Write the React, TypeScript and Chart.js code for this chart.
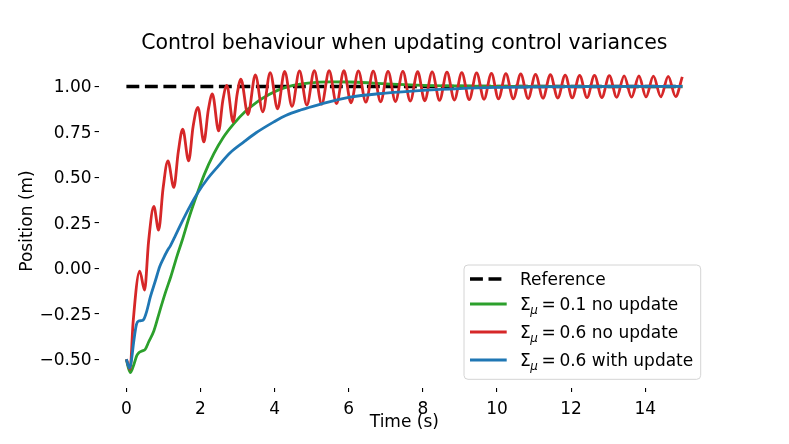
import React, { useEffect, useRef } from "react";
import { Chart, registerables } from "chart.js";

Chart.register(...registerables);

const FONT = "'DejaVu Sans', 'Liberation Sans', sans-serif";

const titleText = "Control behaviour when updating control variances";
const xLabel = "Time (s)";
const yLabel = "Position (m)";

const xTicks = [0, 2, 4, 6, 8, 10, 12, 14];
const xTickLabels = ["0", "2", "4", "6", "8", "10", "12", "14"];
const yTicks = [-0.5, -0.25, 0, 0.25, 0.5, 0.75, 1.0];
const yTickLabels = ["\u22120.50", "\u22120.25", "0.00", "0.25", "0.50", "0.75", "1.00"];

const legendLabels = [
  "Reference",
  "\u03A3\u03BC = 0.1 no update",
  "\u03A3\u03BC = 0.6 no update",
  "\u03A3\u03BC = 0.6 with update",
];

const referenceT = [0, 15];
const referenceY = [1, 1];

const greenT = [0, 0.05, 0.11, 0.2, 0.28, 0.33, 0.42, 0.51, 0.6, 0.74, 0.9, 1.05, 1.2, 1.37, 1.5, 1.7, 1.91, 2.1, 2.36, 2.6, 2.9, 3.2, 3.53, 3.85, 4.16, 4.5, 4.9, 5.5, 6.0, 6.5, 7.0, 8.0, 9.0, 10.0, 12.0, 15.0];
const greenY = [-0.5, -0.545, -0.573, -0.53, -0.48, -0.465, -0.455, -0.445, -0.405, -0.345, -0.235, -0.135, -0.045, 0.07, 0.15, 0.285, 0.41, 0.515, 0.63, 0.715, 0.795, 0.86, 0.915, 0.955, 0.985, 1.005, 1.018, 1.025, 1.024, 1.02, 1.014, 1.006, 1.002, 1.0, 1.0, 1.0];

const redT = [
  0, 0.1, 0.18, 0.36, 0.49, 0.6, 0.74, 0.87, 0.99, 1.12, 1.28, 1.4, 1.52, 1.68, 1.8, 1.93,
  2.09, 2.21, 2.32, 2.49, 2.6, 2.71, 2.88, 2.99, 3.09, 3.28, 3.48, 3.68, 3.88, 4.08, 4.27,
  4.47, 4.67, 4.87, 5.07, 5.27, 5.47, 5.67, 5.87, 6.06, 6.26, 6.46, 6.66, 6.86, 7.06, 7.26,
  7.46, 7.66, 7.86, 8.05, 8.25, 8.45, 8.65, 8.85, 9.05, 9.25, 9.45, 9.65, 9.85, 10.04, 10.24,
  10.44, 10.64, 10.84, 11.04, 11.24, 11.44, 11.64, 11.84, 12.03, 12.23, 12.43, 12.63, 12.83,
  13.03, 13.23, 13.43, 13.63, 13.83, 14.02, 14.22, 14.42, 14.62, 14.82, 15.0,
];
const redY = [
  -0.5, -0.555, -0.3, -0.015, -0.12, 0.15, 0.34, 0.21, 0.44, 0.59, 0.445, 0.64, 0.765, 0.59, 0.78, 0.885,
  0.695, 0.87, 0.958, 0.755, 0.92, 1.005, 0.805, 0.96, 1.04, 0.845, 1.063, 0.86, 1.075, 0.877, 1.082,
  0.89, 1.085, 0.897, 1.086, 0.902, 1.086, 0.906, 1.086, 0.91, 1.085, 0.913, 1.084, 0.915, 1.083, 0.917,
  1.082, 0.919, 1.081, 0.921, 1.08, 0.923, 1.078, 0.925, 1.076, 0.927, 1.074, 0.929, 1.072, 0.931, 1.07,
  0.932, 1.068, 0.933, 1.066, 0.935, 1.064, 0.936, 1.062, 0.937, 1.061, 0.938, 1.06, 0.939,
  1.059, 0.94, 1.058, 0.941, 1.057, 0.942, 1.056, 0.943, 1.055, 0.944, 1.052,
];

const blueT = [0, 0.05, 0.09, 0.14, 0.2, 0.27, 0.33, 0.4, 0.47, 0.55, 0.65, 0.78, 0.9, 1.0, 1.1, 1.19, 1.3, 1.5, 1.7, 1.91, 2.2, 2.45, 2.8, 3.17, 3.5, 3.98, 4.3, 4.7, 5.2, 6.0, 7.0, 8.0, 9.0, 10.0, 11.0, 12.0, 15.0];
const blueY = [-0.5, -0.535, -0.548, -0.5, -0.4, -0.31, -0.29, -0.288, -0.28, -0.235, -0.155, -0.07, 0.01, 0.055, 0.095, 0.125, 0.17, 0.255, 0.335, 0.41, 0.495, 0.555, 0.635, 0.695, 0.745, 0.805, 0.84, 0.87, 0.9, 0.94, 0.963, 0.978, 0.988, 0.994, 0.997, 0.999, 1.0];

const toPoints = (t: number[], v: number[]) => t.map((x, i) => ({ x, y: v[i] }));

const titlePlugin = {
  id: "figTitle",
  afterDraw(chart: any) {
    const { ctx, chartArea: ca } = chart;
    ctx.save();
    ctx.font = `20.5px ${FONT}`;
    ctx.fillStyle = "#000";
    ctx.textAlign = "center";
    ctx.textBaseline = "alphabetic";
    ctx.fillText(titleText, (ca.left + ca.right) / 2, 49);
    ctx.restore();
  },
};

const legendPlugin = {
  id: "figLegend",
  afterDraw(chart: any) {
    const { ctx, chartArea: ca } = chart;
    const boxW = 236.7;
    const boxH = 114.3;
    const bx = ca.right - 9.4 - boxW;
    const by = ca.bottom - 8.7 - boxH;
    ctx.save();
    ctx.beginPath();
    ctx.roundRect(bx, by, boxW, boxH, 4);
    ctx.fillStyle = "rgba(255,255,255,0.8)";
    ctx.fill();
    ctx.strokeStyle = "#d4d4d4";
    ctx.lineWidth = 1;
    ctx.stroke();
    const baselines = [20, 45, 73, 101];
    chart.data.datasets.forEach((ds: any, i: number) => {
      const yb = by + baselines[i];
      const yh = yb - 6;
      ctx.beginPath();
      ctx.setLineDash(ds.borderDash || []);
      ctx.lineWidth = ds.borderWidth;
      ctx.strokeStyle = ds.borderColor;
      ctx.lineCap = "butt";
      ctx.moveTo(bx + 6, yh);
      ctx.lineTo(bx + 42.7, yh);
      ctx.stroke();
      ctx.setLineDash([]);
      const label: string = legendLabels[i];
      const x0 = bx + 56;
      ctx.fillStyle = "#000";
      ctx.textAlign = "left";
      ctx.textBaseline = "alphabetic";
      ctx.font = `17px ${FONT}`;
      if (label.startsWith("\u03A3\u03BC")) {
        ctx.fillText("\u03A3", x0, yb);
        ctx.font = `italic 11.9px ${FONT}`;
        ctx.fillText("\u03BC", x0 + 10.2, yb + 3.5);
        ctx.font = `17px ${FONT}`;
        ctx.fillText("=", x0 + 21.6, yb);
        const rest = label.slice(label.indexOf("=") + 2);
        ctx.fillText(rest, x0 + 39.4, yb);
      } else {
        ctx.fillText(label, x0, yb);
      }
    });
    ctx.restore();
  },
};

export default function App() {
  const canvasRef = useRef<HTMLCanvasElement | null>(null);

  useEffect(() => {
    if (!canvasRef.current) return;
    const tickFont = { family: FONT, size: 17 };
    const chart = new Chart(canvasRef.current, {
      type: "line",
      data: {
        datasets: [
          {
            label: legendLabels[0],
            data: toPoints(referenceT, referenceY),
            borderColor: "#000000",
            borderWidth: 3.5,
            borderDash: [12.9, 5.6],
            pointRadius: 0,
            order: 3,
          },
          {
            label: legendLabels[1],
            data: toPoints(greenT, greenY),
            borderColor: "#2ca02c",
            borderWidth: 2.8,
            pointRadius: 0,
            cubicInterpolationMode: "monotone",
            order: 2,
          },
          {
            label: legendLabels[2],
            data: toPoints(redT, redY),
            borderColor: "#d62728",
            borderWidth: 2.8,
            pointRadius: 0,
            cubicInterpolationMode: "monotone",
            order: 1,
          },
          {
            label: legendLabels[3],
            data: toPoints(blueT, blueY),
            borderColor: "#1f77b4",
            borderWidth: 2.8,
            pointRadius: 0,
            cubicInterpolationMode: "monotone",
            order: 0,
          },
        ],
      },
      options: {
        responsive: false,
        animation: false,
        events: [],
        layout: { padding: { left: 0, top: 54, right: 78.9, bottom: 0 } },
        plugins: {
          legend: { display: false },
          tooltip: { enabled: false },
          title: { display: false },
        },
        scales: {
          x: {
            type: "linear",
            min: -0.75,
            max: 15.75,
            afterFit: (s: any) => {
              s.height = 56;
            },
            afterBuildTicks: (s: any) => {
              s.ticks = xTicks.map((v) => ({ value: v }));
            },
            ticks: {
              callback: (_v: any, i: number) => xTickLabels[i],
              font: tickFont,
              color: "#000",
              padding: 7.5,
              maxRotation: 0,
              autoSkip: false,
            },
            grid: {
              display: true,
              drawOnChartArea: false,
              drawTicks: true,
              tickLength: 4,
              color: "#000",
              lineWidth: 1.1,
            },
            border: { display: false },
            title: {
              display: true,
              text: xLabel,
              font: tickFont,
              color: "#000",
              padding: { top: 0, bottom: 11.3 },
            },
          },
          y: {
            type: "linear",
            min: -0.658,
            max: 1.178,
            afterFit: (s: any) => {
              s.width = 98.6;
            },
            afterBuildTicks: (s: any) => {
              s.ticks = yTicks.map((v) => ({ value: v }));
            },
            ticks: {
              callback: (_v: any, i: number) => yTickLabels[i],
              font: tickFont,
              color: "#000",
              padding: 3,
              labelOffset: 1.5,
              autoSkip: false,
            },
            grid: {
              display: true,
              drawOnChartArea: false,
              drawTicks: true,
              tickLength: 4,
              color: "#000",
              lineWidth: 1.1,
            },
            border: { display: false },
            title: {
              display: true,
              text: yLabel,
              font: tickFont,
              color: "#000",
              padding: { top: 17, bottom: 0 },
            },
          },
        },
      },
      plugins: [titlePlugin, legendPlugin],
    } as any);
    return () => chart.destroy();
  }, []);

  return (
    <div style={{ position: "absolute", left: 0, top: 0, width: 789, height: 444, background: "#fff" }}>
      <canvas ref={canvasRef} width={789} height={444} style={{ display: "block", width: 789, height: 444 }} />
    </div>
  );
}
